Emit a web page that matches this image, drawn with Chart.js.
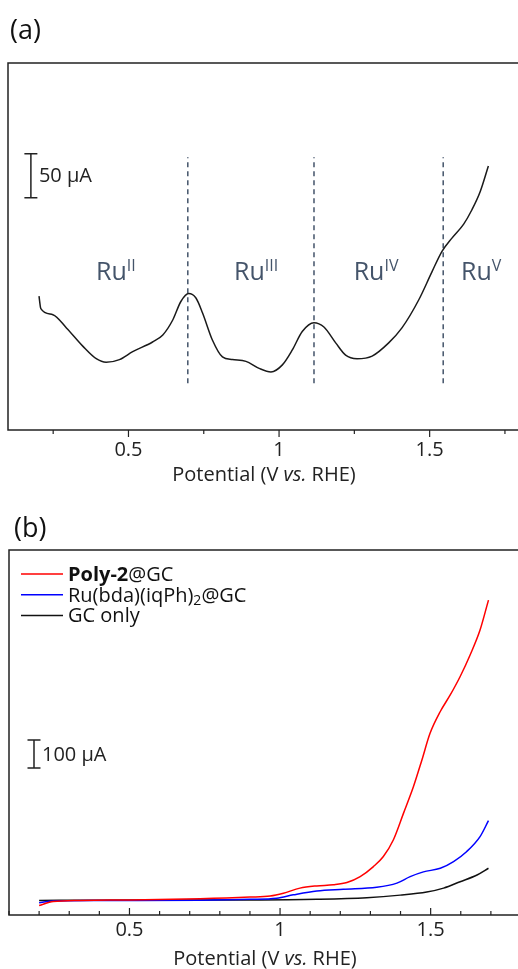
<!DOCTYPE html>
<html>
<head>
<meta charset="utf-8">
<script src="https://cdn.jsdelivr.net/npm/chart.js@4.4.0/dist/chart.umd.min.js"></script>
<style>
  html, body { margin: 0; padding: 0; background: #fff; overflow: hidden; }
  body { width: 518px; height: 969px; position: relative; }
  .panel { position: absolute; left: 0; }
  #wrapA { top: 0; }
  #wrapB { top: 500px; }
</style>
</head>
<body>
<div class="panel" id="wrapA"><canvas id="chartA" width="530" height="500"></canvas></div>
<div class="panel" id="wrapB"><canvas id="chartB" width="530" height="469"></canvas></div>
<script>
// (a) CV of the Ru film, potential in V vs RHE, current in uA (arbitrary offset)
const potA = [0.203, 0.209, 0.249, 0.294, 0.349, 0.393, 0.426, 0.470, 0.514, 0.580, 0.614,
  0.647, 0.674, 0.700, 0.724, 0.746, 0.779, 0.812, 0.845, 0.890, 0.934, 0.973, 1.011,
  1.044, 1.077, 1.116, 1.149, 1.188, 1.221, 1.259, 1.309, 1.364, 1.408, 1.464, 1.508,
  1.541, 1.574, 1.613, 1.640, 1.668, 1.695];
const currA = [152, 138, 131, 116, 95, 81, 77, 80, 89, 100, 108,
  125, 146, 155, 150, 133, 102, 83, 80, 78, 70, 66, 74,
  91, 112, 122, 117, 99, 85, 81, 84, 99, 116, 148, 180,
  203, 218, 234, 250, 271, 300];

// redox borders and oxidation state labels
const dividerPot = [0.697, 1.116, 1.545];
const dividerRange = [53, 310];
const ruStates = ['II', 'III', 'IV', 'V'];
const ruStatePot = [0.458, 0.924, 1.322, 1.671];
const ruStateCurr = 170;

// (b) LSV curves
const potPoly = [0.200, 0.247, 0.336, 0.502, 0.734, 0.900, 0.967, 1.011, 1.066, 1.122, 1.177,
  1.222, 1.266, 1.310, 1.343, 1.376, 1.410, 1.443, 1.471, 1.498, 1.532, 1.565, 1.598,
  1.631, 1.664, 1.692];
const currPoly = [-20, -6, -2, 0, 4, 10, 14, 24, 42, 50, 54,
  62, 83, 119, 155, 214, 310, 405, 500, 595, 673, 732, 798,
  875, 964, 1071];

const potRu = [0.200, 0.247, 0.402, 0.734, 0.900, 0.989, 1.044, 1.122, 1.210, 1.321, 1.388,
  1.432, 1.476, 1.532, 1.576, 1.620, 1.664, 1.692];
const currRu = [-10, -4, -2, -1, 2, 6, 18, 32, 38, 45, 60,
  83, 100, 113, 137, 173, 226, 283];

const potGC = [0.200, 0.402, 0.900, 1.122, 1.288, 1.399, 1.487, 1.543, 1.598, 1.654, 1.692];
const currGC = [-2, -1, 0, 2.5, 8, 17, 28, 42, 65, 89, 113];

const FONT = "'Open Sans', 'Noto Sans', sans-serif";
const SLATE = '#44546a';

function toPoints(xs, ys) {
  return xs.map((x, i) => ({ x: x, y: ys[i] }));
}

// draw a row of text pieces with different fonts
function drawRuns(ctx, runs, x, y, align) {
  let total = 0;
  runs.forEach(r => { ctx.font = r.font; r.w = ctx.measureText(r.text).width; total += r.w; });
  let cx = align === 'center' ? x - total / 2 : x;
  runs.forEach(r => {
    ctx.font = r.font;
    ctx.fillText(r.text, cx, y + (r.dy || 0));
    cx += r.w;
  });
}

// box, tick marks and axis title
function drawFrame(chart, tickDir, titleOffset) {
  const ctx = chart.ctx;
  const a = chart.chartArea;
  const sx = chart.scales.x;
  ctx.save();
  ctx.strokeStyle = '#222';
  ctx.lineWidth = 1.5;
  ctx.strokeRect(a.left, a.top, a.right - a.left, a.bottom - a.top);
  ctx.lineWidth = 1.2;
  sx.ticks.forEach(t => {
    const px = sx.getPixelForValue(t.value);
    const major = Math.abs(t.value * 2 - Math.round(t.value * 2)) < 1e-6;
    const len = major ? 7 : 4;
    ctx.beginPath();
    ctx.moveTo(px, a.bottom);
    ctx.lineTo(px, a.bottom + tickDir * len);
    ctx.stroke();
  });
  ctx.fillStyle = '#222';
  ctx.textBaseline = 'middle';
  const y = a.bottom + titleOffset;
  drawRuns(ctx, [
    { text: 'Potential (V ', font: '20px ' + FONT },
    { text: 'vs.', font: 'italic 20px ' + FONT },
    { text: ' RHE)', font: '20px ' + FONT }
  ], (a.left + a.right) / 2, y, 'center');
  ctx.restore();
}

function drawScaleBar(chart, xv, y0, y1, label) {
  const ctx = chart.ctx;
  const px = chart.scales.x.getPixelForValue(xv);
  const top = chart.scales.y.getPixelForValue(y1);
  const bot = chart.scales.y.getPixelForValue(y0);
  ctx.save();
  ctx.strokeStyle = '#222';
  ctx.lineWidth = 1.5;
  ctx.beginPath();
  ctx.moveTo(px, top); ctx.lineTo(px, bot);
  ctx.moveTo(px - 6.5, top); ctx.lineTo(px + 6.5, top);
  ctx.moveTo(px - 6.5, bot); ctx.lineTo(px + 6.5, bot);
  ctx.stroke();
  ctx.fillStyle = '#222';
  ctx.textBaseline = 'middle';
  ctx.font = '20px ' + FONT;
  ctx.fillText(label, px + 8, (top + bot) / 2 + 1);
  ctx.restore();
}

function tickLabel(v) {
  const major = Math.abs(v * 2 - Math.round(v * 2)) < 1e-6;
  return major ? String(Math.round(v * 10) / 10) : '';
}

const decorA = {
  id: 'decorA',
  afterDraw(chart) {
    const ctx = chart.ctx;
    drawFrame(chart, 1, 45);
    drawScaleBar(chart, 0.176, 264, 314, '50 \u00b5A');
    ctx.save();
    ctx.fillStyle = SLATE;
    ctx.textBaseline = 'alphabetic';
    ruStates.forEach((s, i) => {
      const px = chart.scales.x.getPixelForValue(ruStatePot[i]);
      const py = chart.scales.y.getPixelForValue(ruStateCurr);
      drawRuns(ctx, [
        { text: 'Ru', font: '25px ' + FONT },
        { text: s, font: '16px ' + FONT, dy: -9 }
      ], px, py, 'center');
    });
    ctx.fillStyle = '#111';
    ctx.textBaseline = 'middle';
    ctx.font = '27px ' + FONT;
    ctx.fillText('(a)', 10, 31);
    ctx.restore();
  }
};

const legendB = [
  [{ text: 'Poly-2', font: 'bold 20px ' + FONT }, { text: '@GC', font: '20px ' + FONT }],
  [{ text: 'Ru(bda)(iqPh)', font: '20px ' + FONT }, { text: '2', font: '14px ' + FONT, dy: 5 }, { text: '@GC', font: '20px ' + FONT }],
  [{ text: 'GC only', font: '20px ' + FONT }]
];
const legendColors = ['#ff0000', '#0000ff', '#111111'];

const decorB = {
  id: 'decorB',
  afterDraw(chart) {
    const ctx = chart.ctx;
    drawFrame(chart, -1, 44);
    drawScaleBar(chart, 0.183, 471, 571, '100 \u00b5A');
    ctx.save();
    ctx.textBaseline = 'middle';
    legendB.forEach((runs, i) => {
      const y = 74 + i * 20.8;
      ctx.strokeStyle = legendColors[i];
      ctx.lineWidth = 1.5;
      ctx.beginPath();
      ctx.moveTo(21, y); ctx.lineTo(63, y);
      ctx.stroke();
      ctx.fillStyle = '#111';
      drawRuns(ctx, runs, 68, y + 1, 'left');
    });
    ctx.font = '27px ' + FONT;
    ctx.fillText('(b)', 14, 29);
    ctx.restore();
  }
};

function xScale(step, pad, height) {
  return {
    type: 'linear', min: 0.1, max: 1.8,
    grid: { display: false, drawTicks: false },
    border: { display: false },
    ticks: {
      stepSize: step, includeBounds: false, padding: pad, maxRotation: 0, autoSkip: false,
      font: { family: FONT, size: 20 }, color: '#222',
      callback: v => tickLabel(v)
    },
    afterFit: s => { s.height = height; }
  };
}

const dividerSets = dividerPot.map(p => ({
  data: toPoints([p, p], dividerRange),
  borderColor: SLATE,
  borderWidth: 1.5,
  borderDash: [5, 4],
  pointRadius: 0
}));

new Chart(document.getElementById('chartA'), {
  type: 'line',
  data: {
    datasets: [{
      data: toPoints(potA, currA),
      borderColor: '#1a1a1a',
      borderWidth: 1.5,
      pointRadius: 0,
      cubicInterpolationMode: 'monotone'
    }].concat(dividerSets)
  },
  options: {
    responsive: false,
    animation: false,
    layout: { padding: { left: 8, right: 10, top: 63, bottom: 0 } },
    plugins: { legend: { display: false }, tooltip: { enabled: false } },
    scales: {
      x: xScale(0.25, 8, 70),
      y: { display: false, min: 0, max: 417 }
    }
  },
  plugins: [decorA]
});

new Chart(document.getElementById('chartB'), {
  type: 'line',
  data: {
    datasets: [
      { data: toPoints(potPoly, currPoly), borderColor: '#ff0000' },
      { data: toPoints(potRu, currRu), borderColor: '#0000ff' },
      { data: toPoints(potGC, currGC), borderColor: '#111111' }
    ].map(d => Object.assign(d, { borderWidth: 1.5, pointRadius: 0, cubicInterpolationMode: 'monotone' }))
  },
  options: {
    responsive: false,
    animation: false,
    layout: { padding: { left: 9, right: 9, top: 50, bottom: 0 } },
    plugins: { legend: { display: false }, tooltip: { enabled: false } },
    scales: {
      x: xScale(0.1, 3, 54),
      y: { display: false, min: -54, max: 1250 }
    }
  },
  plugins: [decorB]
});
</script>
</body>
</html>
